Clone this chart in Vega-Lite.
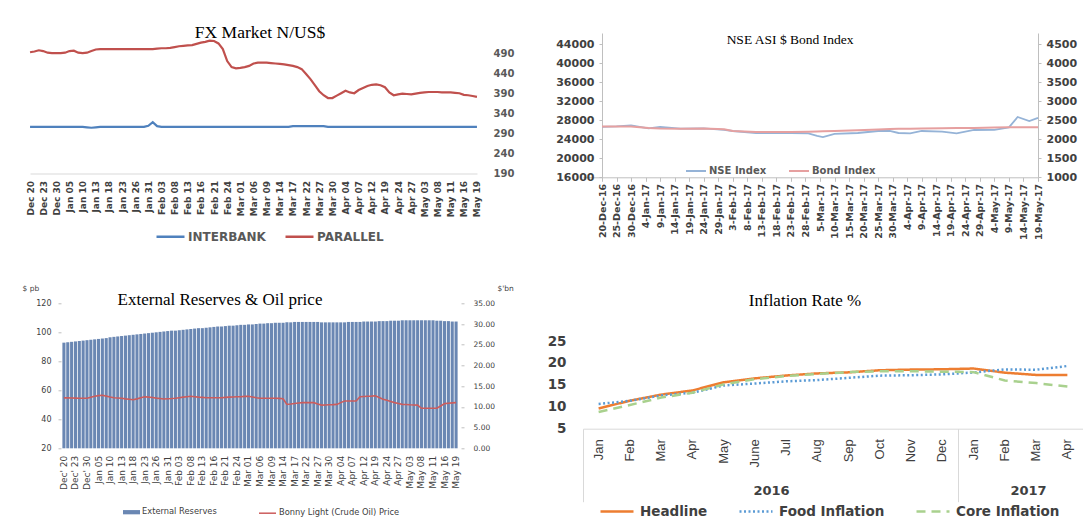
{
  "$schema": "https://vega.github.io/schema/vega-lite/v6.json",
  "background": "white",
  "padding": {"left": 22, "top": 24, "right": 0, "bottom": 0},
  "columns": 2,
  "spacing": {"row": 125.3, "column": 106},
  "bounds": "flush",
  "align": "none",
  "resolve": {"scale": {"color": "independent", "strokeDash": "independent", "fill": "independent", "stroke": "independent"}},
  "config": {"view": {"stroke": null}, "axis": {"grid": false}, "font": "DejaVu Sans"},
  "datasets": {
    "trade": [
      {"d":"Dec 20","ib":306,"pa":492,"rs":25.5,"oil":54.8},
      {"d":"Dec 21","ib":306,"pa":494,"rs":25.6,"oil":54.9},
      {"d":"Dec 22","ib":306,"pa":497,"rs":25.7,"oil":54.7},
      {"d":"Dec 23","ib":306,"pa":495,"rs":25.8,"oil":54.6},
      {"d":"Dec 28","ib":306,"pa":491,"rs":25.9,"oil":54.5},
      {"d":"Dec 29","ib":306,"pa":490,"rs":26.0,"oil":54.5},
      {"d":"Dec 30","ib":306,"pa":490,"rs":26.1,"oil":54.5},
      {"d":"Jan 03","ib":306,"pa":490,"rs":26.2,"oil":55.2},
      {"d":"Jan 04","ib":306,"pa":491,"rs":26.3,"oil":55.9},
      {"d":"Jan 05","ib":306,"pa":495,"rs":26.4,"oil":56.3},
      {"d":"Jan 06","ib":306,"pa":496,"rs":26.5,"oil":56.6},
      {"d":"Jan 09","ib":306,"pa":491,"rs":26.6,"oil":56.0},
      {"d":"Jan 10","ib":306,"pa":490,"rs":26.8,"oil":55.4},
      {"d":"Jan 11","ib":305,"pa":491,"rs":26.9,"oil":54.9},
      {"d":"Jan 12","ib":304,"pa":495,"rs":27.0,"oil":54.7},
      {"d":"Jan 13","ib":305,"pa":499,"rs":27.1,"oil":54.5},
      {"d":"Jan 16","ib":306,"pa":500,"rs":27.2,"oil":54.1},
      {"d":"Jan 17","ib":306,"pa":500,"rs":27.3,"oil":53.8},
      {"d":"Jan 18","ib":306,"pa":500,"rs":27.4,"oil":53.5},
      {"d":"Jan 19","ib":306,"pa":500,"rs":27.5,"oil":54.1},
      {"d":"Jan 20","ib":306,"pa":500,"rs":27.6,"oil":54.8},
      {"d":"Jan 23","ib":306,"pa":500,"rs":27.7,"oil":55.5},
      {"d":"Jan 24","ib":306,"pa":500,"rs":27.8,"oil":55.3},
      {"d":"Jan 25","ib":306,"pa":500,"rs":27.9,"oil":55.0},
      {"d":"Jan 26","ib":306,"pa":500,"rs":28.0,"oil":54.6},
      {"d":"Jan 27","ib":306,"pa":500,"rs":28.1,"oil":54.3},
      {"d":"Jan 30","ib":306,"pa":500,"rs":28.2,"oil":54.0},
      {"d":"Jan 31","ib":309,"pa":500,"rs":28.3,"oil":54.2},
      {"d":"Feb 01","ib":318,"pa":500,"rs":28.4,"oil":54.3},
      {"d":"Feb 02","ib":308,"pa":501,"rs":28.4,"oil":54.5},
      {"d":"Feb 03","ib":306,"pa":502,"rs":28.5,"oil":54.9},
      {"d":"Feb 06","ib":306,"pa":502,"rs":28.6,"oil":55.3},
      {"d":"Feb 07","ib":306,"pa":503,"rs":28.7,"oil":55.6},
      {"d":"Feb 08","ib":306,"pa":505,"rs":28.8,"oil":55.9},
      {"d":"Feb 09","ib":306,"pa":507,"rs":28.9,"oil":55.6},
      {"d":"Feb 10","ib":306,"pa":508,"rs":29.0,"oil":55.3},
      {"d":"Feb 13","ib":306,"pa":509,"rs":29.0,"oil":55.1},
      {"d":"Feb 14","ib":306,"pa":510,"rs":29.1,"oil":54.9},
      {"d":"Feb 15","ib":306,"pa":513,"rs":29.2,"oil":54.9},
      {"d":"Feb 16","ib":306,"pa":516,"rs":29.3,"oil":54.9},
      {"d":"Feb 17","ib":306,"pa":518,"rs":29.4,"oil":54.9},
      {"d":"Feb 20","ib":306,"pa":521,"rs":29.4,"oil":54.9},
      {"d":"Feb 21","ib":306,"pa":520,"rs":29.5,"oil":55.1},
      {"d":"Feb 22","ib":306,"pa":514,"rs":29.6,"oil":55.3},
      {"d":"Feb 23","ib":306,"pa":500,"rs":29.6,"oil":55.4},
      {"d":"Feb 24","ib":306,"pa":470,"rs":29.7,"oil":55.5},
      {"d":"Feb 27","ib":306,"pa":455,"rs":29.8,"oil":55.6},
      {"d":"Feb 28","ib":306,"pa":452,"rs":29.8,"oil":55.8},
      {"d":"Mar 01","ib":306,"pa":453,"rs":29.9,"oil":55.9},
      {"d":"Mar 02","ib":306,"pa":455,"rs":29.9,"oil":55.4},
      {"d":"Mar 03","ib":306,"pa":458,"rs":30.0,"oil":54.9},
      {"d":"Mar 06","ib":306,"pa":464,"rs":30.1,"oil":54.5},
      {"d":"Mar 07","ib":306,"pa":466,"rs":30.1,"oil":54.5},
      {"d":"Mar 08","ib":306,"pa":466,"rs":30.2,"oil":54.5},
      {"d":"Mar 09","ib":306,"pa":466,"rs":30.2,"oil":54.5},
      {"d":"Mar 10","ib":306,"pa":465,"rs":30.3,"oil":54.5},
      {"d":"Mar 13","ib":306,"pa":464,"rs":30.3,"oil":54.4},
      {"d":"Mar 14","ib":306,"pa":463,"rs":30.3,"oil":54.2},
      {"d":"Mar 15","ib":306,"pa":462,"rs":30.4,"oil":50.3},
      {"d":"Mar 16","ib":306,"pa":460,"rs":30.4,"oil":50.5},
      {"d":"Mar 17","ib":308,"pa":458,"rs":30.5,"oil":50.9},
      {"d":"Mar 20","ib":308,"pa":455,"rs":30.5,"oil":51.2},
      {"d":"Mar 21","ib":308,"pa":450,"rs":30.5,"oil":51.5},
      {"d":"Mar 22","ib":308,"pa":438,"rs":30.5,"oil":51.5},
      {"d":"Mar 23","ib":308,"pa":425,"rs":30.5,"oil":51.5},
      {"d":"Mar 24","ib":308,"pa":410,"rs":30.5,"oil":51.5},
      {"d":"Mar 27","ib":308,"pa":395,"rs":30.5,"oil":50.6},
      {"d":"Mar 28","ib":308,"pa":385,"rs":30.4,"oil":49.8},
      {"d":"Mar 29","ib":306,"pa":378,"rs":30.4,"oil":49.9},
      {"d":"Mar 30","ib":306,"pa":378,"rs":30.4,"oil":50.0},
      {"d":"Mar 31","ib":306,"pa":384,"rs":30.4,"oil":50.1},
      {"d":"Apr 03","ib":306,"pa":390,"rs":30.4,"oil":50.3},
      {"d":"Apr 04","ib":306,"pa":396,"rs":30.4,"oil":51.5},
      {"d":"Apr 05","ib":306,"pa":392,"rs":30.4,"oil":52.6},
      {"d":"Apr 06","ib":306,"pa":390,"rs":30.5,"oil":52.6},
      {"d":"Apr 07","ib":306,"pa":398,"rs":30.5,"oil":52.6},
      {"d":"Apr 10","ib":306,"pa":403,"rs":30.5,"oil":52.6},
      {"d":"Apr 11","ib":306,"pa":408,"rs":30.5,"oil":55.5},
      {"d":"Apr 12","ib":306,"pa":411,"rs":30.6,"oil":55.7},
      {"d":"Apr 13","ib":306,"pa":412,"rs":30.6,"oil":55.9},
      {"d":"Apr 18","ib":306,"pa":410,"rs":30.6,"oil":56.0},
      {"d":"Apr 19","ib":306,"pa":405,"rs":30.6,"oil":56.2},
      {"d":"Apr 20","ib":306,"pa":392,"rs":30.7,"oil":55.0},
      {"d":"Apr 21","ib":306,"pa":385,"rs":30.7,"oil":53.9},
      {"d":"Apr 24","ib":306,"pa":387,"rs":30.7,"oil":53.1},
      {"d":"Apr 25","ib":306,"pa":389,"rs":30.8,"oil":52.3},
      {"d":"Apr 26","ib":306,"pa":388,"rs":30.8,"oil":51.5},
      {"d":"Apr 27","ib":306,"pa":387,"rs":30.8,"oil":50.9},
      {"d":"Apr 28","ib":306,"pa":389,"rs":30.9,"oil":50.3},
      {"d":"May 02","ib":306,"pa":391,"rs":30.9,"oil":50.2},
      {"d":"May 03","ib":306,"pa":392,"rs":30.9,"oil":50.0},
      {"d":"May 04","ib":306,"pa":393,"rs":30.9,"oil":49.9},
      {"d":"May 05","ib":306,"pa":393,"rs":30.9,"oil":49.8},
      {"d":"May 08","ib":306,"pa":393,"rs":30.9,"oil":47.6},
      {"d":"May 09","ib":306,"pa":392,"rs":30.9,"oil":47.6},
      {"d":"May 10","ib":306,"pa":392,"rs":30.9,"oil":47.6},
      {"d":"May 11","ib":306,"pa":392,"rs":30.9,"oil":47.6},
      {"d":"May 12","ib":306,"pa":391,"rs":30.8,"oil":47.6},
      {"d":"May 15","ib":306,"pa":390,"rs":30.8,"oil":49.2},
      {"d":"May 16","ib":306,"pa":386,"rs":30.7,"oil":50.8},
      {"d":"May 17","ib":306,"pa":385,"rs":30.7,"oil":51.1},
      {"d":"May 18","ib":306,"pa":383,"rs":30.6,"oil":51.3},
      {"d":"May 19","ib":306,"pa":381,"rs":30.6,"oil":51.5}
    ],
    "nse": [
      {"date":"2016-12-20","nse":26600,"bond":2340},
      {"date":"2016-12-25","nse":26700,"bond":2340},
      {"date":"2016-12-30","nse":26950,"bond":2335},
      {"date":"2017-01-05","nse":26300,"bond":2300},
      {"date":"2017-01-09","nse":26600,"bond":2285},
      {"date":"2017-01-16","nse":26250,"bond":2280},
      {"date":"2017-01-24","nse":26300,"bond":2282},
      {"date":"2017-01-31","nse":26000,"bond":2265},
      {"date":"2017-02-03","nse":25750,"bond":2220},
      {"date":"2017-02-11","nse":25330,"bond":2195},
      {"date":"2017-02-18","nse":25300,"bond":2192},
      {"date":"2017-02-23","nse":25330,"bond":2195},
      {"date":"2017-03-01","nse":25260,"bond":2200},
      {"date":"2017-03-04","nse":24700,"bond":2205},
      {"date":"2017-03-06","nse":24480,"bond":2210},
      {"date":"2017-03-10","nse":25150,"bond":2220},
      {"date":"2017-03-18","nse":25330,"bond":2240},
      {"date":"2017-03-25","nse":25750,"bond":2260},
      {"date":"2017-03-29","nse":25750,"bond":2270},
      {"date":"2017-04-01","nse":25330,"bond":2275},
      {"date":"2017-04-05","nse":25260,"bond":2280},
      {"date":"2017-04-09","nse":25750,"bond":2285},
      {"date":"2017-04-16","nse":25600,"bond":2290},
      {"date":"2017-04-21","nse":25260,"bond":2295},
      {"date":"2017-04-27","nse":25960,"bond":2300},
      {"date":"2017-05-04","nse":26000,"bond":2310},
      {"date":"2017-05-09","nse":26500,"bond":2316},
      {"date":"2017-05-12","nse":28700,"bond":2316},
      {"date":"2017-05-16","nse":27850,"bond":2316},
      {"date":"2017-05-19","nse":28500,"bond":2316}
    ],
    "infl": [
      {"month":"Jan 2016","series":"Headline","value":9.62},
      {"month":"Feb 2016","series":"Headline","value":11.38},
      {"month":"Mar 2016","series":"Headline","value":12.77},
      {"month":"Apr 2016","series":"Headline","value":13.72},
      {"month":"May 2016","series":"Headline","value":15.58},
      {"month":"June 2016","series":"Headline","value":16.48},
      {"month":"Jul 2016","series":"Headline","value":17.13},
      {"month":"Aug 2016","series":"Headline","value":17.61},
      {"month":"Sep 2016","series":"Headline","value":17.85},
      {"month":"Oct 2016","series":"Headline","value":18.33},
      {"month":"Nov 2016","series":"Headline","value":18.48},
      {"month":"Dec 2016","series":"Headline","value":18.55},
      {"month":"Jan 2017","series":"Headline","value":18.72},
      {"month":"Feb 2017","series":"Headline","value":17.78},
      {"month":"Mar 2017","series":"Headline","value":17.26},
      {"month":"Apr 2017","series":"Headline","value":17.24},
      {"month":"Jan 2016","series":"Food Inflation","value":10.64},
      {"month":"Feb 2016","series":"Food Inflation","value":11.35},
      {"month":"Mar 2016","series":"Food Inflation","value":12.59},
      {"month":"Apr 2016","series":"Food Inflation","value":13.2},
      {"month":"May 2016","series":"Food Inflation","value":14.86},
      {"month":"June 2016","series":"Food Inflation","value":15.3},
      {"month":"Jul 2016","series":"Food Inflation","value":15.8},
      {"month":"Aug 2016","series":"Food Inflation","value":16.1},
      {"month":"Sep 2016","series":"Food Inflation","value":16.6},
      {"month":"Oct 2016","series":"Food Inflation","value":17.1},
      {"month":"Nov 2016","series":"Food Inflation","value":17.2},
      {"month":"Dec 2016","series":"Food Inflation","value":17.39},
      {"month":"Jan 2017","series":"Food Inflation","value":17.82},
      {"month":"Feb 2017","series":"Food Inflation","value":18.53},
      {"month":"Mar 2017","series":"Food Inflation","value":18.44},
      {"month":"Apr 2017","series":"Food Inflation","value":19.3},
      {"month":"Jan 2016","series":"Core Inflation","value":8.8},
      {"month":"Feb 2016","series":"Core Inflation","value":10.4},
      {"month":"Mar 2016","series":"Core Inflation","value":12.1},
      {"month":"Apr 2016","series":"Core Inflation","value":13.2},
      {"month":"May 2016","series":"Core Inflation","value":15.1},
      {"month":"June 2016","series":"Core Inflation","value":16.3},
      {"month":"Jul 2016","series":"Core Inflation","value":17.0},
      {"month":"Aug 2016","series":"Core Inflation","value":17.5},
      {"month":"Sep 2016","series":"Core Inflation","value":17.9},
      {"month":"Oct 2016","series":"Core Inflation","value":18.1},
      {"month":"Nov 2016","series":"Core Inflation","value":18.1},
      {"month":"Dec 2016","series":"Core Inflation","value":18.0},
      {"month":"Jan 2017","series":"Core Inflation","value":17.9},
      {"month":"Feb 2017","series":"Core Inflation","value":16.0},
      {"month":"Mar 2017","series":"Core Inflation","value":15.4},
      {"month":"Apr 2017","series":"Core Inflation","value":14.6}
    ]
  },
  "concat": [
    {
      "width": 447,
      "height": 140.5,
      "title": {"text": "FX Market N/US$", "font": "Liberation Serif", "fontSize": 17.5, "fontWeight": "normal", "color": "#000000", "frame": "group", "anchor": "middle", "offset": -17.8, "baseline": "middle", "dx": 6.5},
      "data": {"name": "trade"},
      "encoding": {
        "x": {"field": "d", "type": "ordinal", "sort": null, "scale": {"type": "point", "padding": 0.01},
          "axis": {"values": ["Dec 20","Dec 23","Dec 30","Jan 05","Jan 10","Jan 13","Jan 18","Jan 23","Jan 26","Jan 31","Feb 03","Feb 08","Feb 13","Feb 16","Feb 21","Feb 24","Mar 01","Mar 06","Mar 09","Mar 14","Mar 17","Mar 22","Mar 27","Mar 30","Apr 04","Apr 07","Apr 12","Apr 19","Apr 24","Apr 27","May 03","May 08","May 11","May 16","May 19"],
            "labelAngle": -90, "labelFont": "DejaVu Sans", "labelFontWeight": "bold", "labelFontSize": 9, "labelColor": "#404040", "labelPadding": 7, "ticks": false, "tickSize": 0, "domain": true, "domainColor": "#d9d9d9", "title": null, "labelOverlap": false, "labelFlush": false, "labelBound": false}},
        "y": {"type": "quantitative", "scale": {"domain": [190, 540]},
          "axis": {"orient": "right", "values": [190,240,290,340,390,440,490], "labelOverlap": false, "labelFont": "DejaVu Sans", "labelFontWeight": "bold", "labelFontSize": 10, "labelColor": "#595959", "labelPadding": 16, "ticks": false, "tickSize": 0, "domain": false, "title": null}}
      },
      "layer": [
        {
          "mark": {"type": "line", "strokeWidth": 2.2},
          "encoding": {
            "y": {"field": "ib", "type": "quantitative", "scale": {"domain": [190, 540]},
              "axis": {"orient": "right", "values": [190,240,290,340,390,440,490], "labelOverlap": false, "labelFont": "DejaVu Sans", "labelFontWeight": "bold", "labelFontSize": 10, "labelColor": "#595959", "labelPadding": 16, "ticks": false, "tickSize": 0, "domain": false, "title": null}},
            "color": {"datum": "INTERBANK", "type": "nominal", "scale": {"domain": ["INTERBANK","PARALLEL"], "range": ["#4f81bd","#c0504d"]},
              "legend": {"orient": "none", "legendX": 125, "legendY": 188, "direction": "horizontal", "title": null, "padding": 0, "symbolType": "stroke", "symbolSize": 784, "symbolStrokeWidth": 2.5, "labelFont": "DejaVu Sans", "labelFontWeight": "bold", "labelFontSize": 12, "labelColor": "#595959", "labelOffset": 2, "columnPadding": 14}}
          }
        },
        {
          "mark": {"type": "line", "strokeWidth": 2.2},
          "encoding": {
            "y": {"field": "pa", "type": "quantitative", "scale": {"domain": [190, 540]},
              "axis": {"orient": "right", "values": [190,240,290,340,390,440,490], "labelOverlap": false, "labelFont": "DejaVu Sans", "labelFontWeight": "bold", "labelFontSize": 10, "labelColor": "#595959", "labelPadding": 16, "ticks": false, "tickSize": 0, "domain": false, "title": null}},
            "color": {"datum": "PARALLEL", "type": "nominal"}
          }
        }
      ]
    },
    {
      "width": 455,
      "height": 144.3,
      "title": {"text": "NSE ASI $ Bond Index", "font": "Liberation Serif", "fontSize": 13.5, "fontWeight": "normal", "color": "#000000", "frame": "group", "anchor": "middle", "offset": -20.1, "baseline": "middle", "dx": -20.5},
      "data": {"name": "nse"},
      "encoding": {
        "x": {"field": "date", "type": "temporal",
          "scale": {"type": "utc", "domain": [{"year": 2016, "month": 12, "date": 13, "hours": 11, "minutes": 7, "utc": true}, {"year": 2017, "month": 5, "date": 19, "utc": true}]},
          "axis": {"values": [
              {"year":2016,"month":12,"date":20,"utc":true},{"year":2016,"month":12,"date":25,"utc":true},{"year":2016,"month":12,"date":30,"utc":true},
              {"year":2017,"month":1,"date":4,"utc":true},{"year":2017,"month":1,"date":9,"utc":true},{"year":2017,"month":1,"date":14,"utc":true},{"year":2017,"month":1,"date":19,"utc":true},{"year":2017,"month":1,"date":24,"utc":true},{"year":2017,"month":1,"date":29,"utc":true},
              {"year":2017,"month":2,"date":3,"utc":true},{"year":2017,"month":2,"date":8,"utc":true},{"year":2017,"month":2,"date":13,"utc":true},{"year":2017,"month":2,"date":18,"utc":true},{"year":2017,"month":2,"date":23,"utc":true},{"year":2017,"month":2,"date":28,"utc":true},
              {"year":2017,"month":3,"date":5,"utc":true},{"year":2017,"month":3,"date":10,"utc":true},{"year":2017,"month":3,"date":15,"utc":true},{"year":2017,"month":3,"date":20,"utc":true},{"year":2017,"month":3,"date":25,"utc":true},{"year":2017,"month":3,"date":30,"utc":true},
              {"year":2017,"month":4,"date":4,"utc":true},{"year":2017,"month":4,"date":9,"utc":true},{"year":2017,"month":4,"date":14,"utc":true},{"year":2017,"month":4,"date":19,"utc":true},{"year":2017,"month":4,"date":24,"utc":true},{"year":2017,"month":4,"date":29,"utc":true},
              {"year":2017,"month":5,"date":4,"utc":true},{"year":2017,"month":5,"date":9,"utc":true},{"year":2017,"month":5,"date":14,"utc":true},{"year":2017,"month":5,"date":19,"utc":true}],
            "labelExpr": "utcFormat(datum.value, '%-d-%b-%y')", "labelAngle": -90, "labelFont": "DejaVu Sans", "labelFontWeight": "bold", "labelFontSize": 9.5, "labelColor": "#404040", "labelPadding": 2, "ticks": true, "tickSize": 4, "tickColor": "#bfbfbf", "domainColor": "#bfbfbf", "title": null, "labelOverlap": false, "labelFlush": false, "labelBound": false}}
      },
      "layer": [
        {
          "mark": {"type": "line", "strokeWidth": 1.8},
          "encoding": {
            "y": {"field": "nse", "type": "quantitative", "scale": {"domain": [16000, 46379]},
              "axis": {"orient": "left", "offset": -19, "values": [16000,20000,24000,28000,32000,36000,40000,44000], "format": "d", "labelOverlap": false, "labelFont": "DejaVu Sans", "labelFontWeight": "bold", "labelFontSize": 11, "labelColor": "#404040", "labelPadding": 5, "ticks": true, "tickSize": 3, "tickColor": "#bfbfbf", "domainColor": "#bfbfbf", "title": null}},
            "color": {"datum": "NSE Index", "type": "nominal", "scale": {"domain": ["NSE Index","Bond Index"], "range": ["#95b3d7","#e6a0a0"]},
              "legend": {"orient": "none", "legendX": 102, "legendY": 127, "direction": "horizontal", "title": null, "padding": 0, "symbolType": "stroke", "symbolSize": 400, "symbolStrokeWidth": 2, "labelFont": "DejaVu Sans", "labelFontWeight": "bold", "labelFontSize": 10, "labelColor": "#595959", "labelOffset": 2, "columnPadding": 18}}
          }
        },
        {
          "mark": {"type": "line", "strokeWidth": 2},
          "encoding": {
            "y": {"field": "bond", "type": "quantitative", "scale": {"domain": [1000, 4797]},
              "axis": {"orient": "right", "values": [1000,1500,2000,2500,3000,3500,4000,4500], "format": "d", "labelOverlap": false, "labelFont": "DejaVu Sans", "labelFontWeight": "bold", "labelFontSize": 11, "labelColor": "#404040", "labelPadding": 5, "ticks": true, "tickSize": 3, "tickColor": "#bfbfbf", "domainColor": "#bfbfbf", "title": null}},
            "color": {"datum": "Bond Index", "type": "nominal"}
          }
        }
      ],
      "resolve": {"scale": {"y": "independent"}}
    },
    {
      "width": 428,
      "height": 145,
      "title": {"text": "External Reserves & Oil price", "font": "Liberation Serif", "fontSize": 17, "fontWeight": "normal", "color": "#000000", "frame": "group", "anchor": "middle", "offset": -33.4, "baseline": "middle", "dx": -24},
      "data": {"name": "trade"},
      "encoding": {
        "x": {"field": "d", "type": "ordinal", "sort": null, "scale": {"type": "band", "range": [32, 428], "paddingInner": 0.2, "paddingOuter": 0.1},
          "axis": {"values": ["Dec 20","Dec 23","Dec 30","Jan 05","Jan 10","Jan 13","Jan 18","Jan 23","Jan 26","Jan 31","Feb 03","Feb 08","Feb 13","Feb 16","Feb 21","Feb 24","Mar 01","Mar 06","Mar 09","Mar 14","Mar 17","Mar 22","Mar 27","Mar 30","Apr 04","Apr 07","Apr 12","Apr 19","Apr 24","Apr 27","May 03","May 08","May 11","May 16","May 19"],
            "labelExpr": "replace(datum.value, 'Dec ', \"Dec' \")",
            "labelAngle": -90, "labelFont": "DejaVu Sans", "labelFontSize": 9, "labelColor": "#404040", "labelPadding": 7, "ticks": false, "tickSize": 0, "domain": false, "title": null, "labelOverlap": false, "labelFlush": false}}
      },
      "layer": [
        {
          "mark": {"type": "bar"},
          "encoding": {
            "y": {"field": "rs", "type": "quantitative", "scale": {"domain": [0, 35]},
              "axis": {"orient": "right", "values": [0,5,10,15,20,25,30,35], "format": ".2f", "offset": 3, "labelOverlap": false, "labelFont": "DejaVu Sans", "labelFontSize": 7.5, "labelColor": "#404040", "labelPadding": 9, "ticks": true, "tickSize": 3, "tickColor": "#bfbfbf", "domain": false,
                "title": "$'bn", "titleAngle": 0, "titleX": 36, "titleY": -15.3, "titleAlign": "left", "titleBaseline": "middle", "titleFont": "DejaVu Sans", "titleFontSize": 7.5, "titleFontWeight": "normal", "titleColor": "#404040"}},
            "fill": {"datum": "External Reserves", "type": "nominal", "scale": {"domain": ["External Reserves"], "range": ["#6a87b3"]},
              "legend": {"orient": "none", "legendX": 93, "legendY": 200.4, "title": null, "padding": 0, "symbolType": "M-1,-0.25H1V0.25H-1Z", "symbolSize": 289, "symbolStrokeWidth": 0, "labelFont": "DejaVu Sans", "labelFontSize": 8.3, "labelColor": "#404040", "labelOffset": 2}}
          }
        },
        {
          "mark": {"type": "line", "strokeWidth": 1.6},
          "encoding": {
            "y": {"field": "oil", "type": "quantitative", "scale": {"domain": [20, 120]},
              "axis": {"orient": "left", "values": [20,40,60,80,100,120], "offset": -31, "labelOverlap": false, "labelFont": "DejaVu Sans", "labelFontSize": 8, "labelColor": "#404040", "labelPadding": 7, "ticks": true, "tickSize": 3, "tickColor": "#bfbfbf", "domain": false,
                "title": "$ pb", "titleAngle": 0, "titleX": -39, "titleY": -15.3, "titleAlign": "left", "titleBaseline": "middle", "titleFont": "DejaVu Sans", "titleFontSize": 7.5, "titleFontWeight": "normal", "titleColor": "#404040"}},
            "stroke": {"datum": "Bonny Light (Crude Oil) Price", "type": "nominal", "scale": {"domain": ["Bonny Light (Crude Oil) Price"], "range": ["#cc5c5c"]},
              "legend": {"orient": "none", "legendX": 228, "legendY": 200.4, "title": null, "padding": 0, "symbolType": "stroke", "symbolSize": 289, "symbolStrokeWidth": 1.5, "labelFont": "DejaVu Sans", "labelFontSize": 8.3, "labelColor": "#404040", "labelOffset": 2}}
          }
        }
      ],
      "resolve": {"scale": {"y": "independent"}}
    },
    {
      "width": 500,
      "height": 125.4,
      "title": {"text": "Inflation Rate %", "font": "Liberation Serif", "fontSize": 17, "fontWeight": "normal", "color": "#000000", "frame": "group", "anchor": "middle", "offset": -14.7, "baseline": "middle", "dx": -28},
      "data": {"name": "infl"},
      "encoding": {
        "y": {"field": "value", "type": "quantitative", "scale": {"domain": [5, 33.6]},
          "axis": {"values": [5,10,15,20,25], "labelOverlap": false, "labelFont": "DejaVu Sans", "labelFontWeight": "bold", "labelFontSize": 13.5, "labelColor": "#404040", "labelPadding": 17, "ticks": false, "tickSize": 0, "domain": false, "title": null}}
      },
      "layer": [
        {
          "mark": {"type": "line", "strokeWidth": 2.5},
          "encoding": {
            "x": {"field": "month", "type": "ordinal", "sort": null, "scale": {"type": "band", "paddingInner": 0, "paddingOuter": 0},
              "axis": {"orient": "bottom", "labelExpr": "split(datum.value, ' ')[0]", "labelAngle": -90, "labelFont": "Liberation Sans", "labelFontSize": 13, "labelColor": "#404040", "labelPadding": 10, "ticks": false, "tickSize": 0, "domain": true, "domainColor": "#d9d9d9", "labelOverlap": false,
                "title": "2016", "titleX": 188, "titleY": 62, "titleAlign": "center", "titleBaseline": "middle", "titleFont": "DejaVu Sans", "titleFontWeight": "bold", "titleFontSize": 13, "titleColor": "#404040"}},
            "color": {"field": "series", "type": "nominal", "scale": {"domain": ["Headline","Food Inflation","Core Inflation"], "range": ["#ed7d31","#5b9bd5","#a9d18e"]},
              "legend": {"orient": "none", "legendX": 16, "legendY": 190, "direction": "horizontal", "title": null, "padding": 0, "symbolType": "stroke", "symbolSize": 1089, "symbolStrokeWidth": 2.5, "labelFont": "DejaVu Sans", "labelFontWeight": "bold", "labelFontSize": 13.5, "labelColor": "#404040", "labelOffset": 5, "columnPadding": 26}},
            "strokeDash": {"field": "series", "type": "nominal", "scale": {"domain": ["Headline","Food Inflation","Core Inflation"], "range": [[1,0],[2,2.5],[9,6]]},
              "legend": {"orient": "none", "legendX": 16, "legendY": 190, "direction": "horizontal", "title": null, "padding": 0, "symbolType": "stroke", "symbolSize": 1089, "symbolStrokeWidth": 2.5, "labelFont": "DejaVu Sans", "labelFontWeight": "bold", "labelFontSize": 13.5, "labelColor": "#404040", "labelOffset": 5, "columnPadding": 26}}
          }
        },
        {
          "mark": {"type": "point", "opacity": 0},
          "encoding": {
            "x": {"field": "month", "type": "ordinal", "sort": null,
              "axis": {"orient": "bottom", "values": ["Jan 2016","Jan 2017"], "bandPosition": 0, "labels": false, "domain": false, "ticks": true, "tickSize": 73, "tickColor": "#d9d9d9", "tickWidth": 1,
                "title": "2017", "titleX": 445, "titleY": 62, "titleAlign": "center", "titleBaseline": "middle", "titleFont": "DejaVu Sans", "titleFontWeight": "bold", "titleFontSize": 13, "titleColor": "#404040"}}
          }
        }
      ],
      "resolve": {"axis": {"x": "independent"}}
    }
  ]
}
